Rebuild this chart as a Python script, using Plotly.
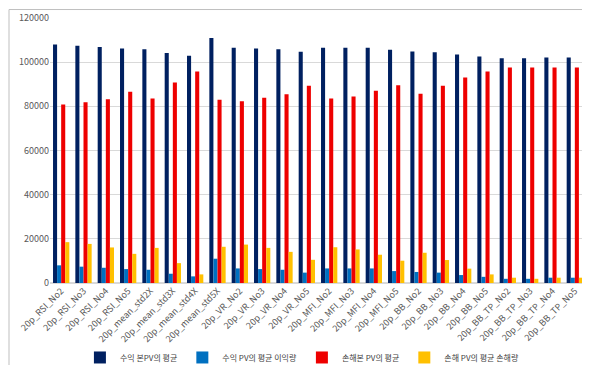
import plotly.graph_objects as go

categories = ["20p_RSI_No2", "20p_RSI_No3", "20p_RSI_No4", "20p_RSI_No5",
              "20p_mean_std2X", "20p_mean_std3X", "20p_mean_std4X", "20p_mean_std5X",
              "20p_VR_No2", "20p_VR_No3", "20p_VR_No4", "20p_VR_No5",
              "20p_MFI_No2", "20p_MFI_No3", "20p_MFI_No4", "20p_MFI_No5",
              "20p_BB_No2", "20p_BB_No3", "20p_BB_No4", "20p_BB_No5",
              "20p_BB_TP_No2", "20p_BB_TP_No3", "20p_BB_TP_No4", "20p_BB_TP_No5"]

profit_pv_avg = [108000, 107400, 106900, 106200, 105800, 104200, 102900, 111000,
                 106500, 106200, 105800, 104700, 106500, 106500, 106500, 105600,
                 104800, 104500, 103500, 102600, 101800, 101800, 102100, 102100]
profit_amount = [8000, 7400, 6900, 6300, 6000, 4200, 3000, 11000,
                 6600, 6300, 6000, 4700, 6600, 6600, 6600, 5400,
                 5000, 4700, 3600, 2800, 1900, 1900, 2400, 2400]
loss_pv_avg = [80800, 81800, 83200, 86600, 83600, 90800, 95800, 83000,
               82300, 83900, 85500, 89300, 83600, 84500, 87100, 89600,
               85700, 89300, 93100, 95800, 97600, 97600, 97600, 97600]
loss_amount = [18500, 17700, 16100, 13200, 15900, 9000, 3900, 16400,
               17400, 15900, 14100, 10500, 16200, 15200, 12800, 10100,
               13700, 10400, 6500, 3900, 2400, 1900, 2400, 2400]

series_names = ["수익 본PV의 평균", "수익 PV의 평균 이익량", "손해본 PV의 평균", "손해 PV의 평균 손해량"]
series_values = [profit_pv_avg, profit_amount, loss_pv_avg, loss_amount]
series_colors = ["#002060", "#0070C0", "#EE0000", "#FFC000"]

font_family = "Noto Sans CJK KR, Noto Sans, sans-serif"

fig = go.Figure()
for name, vals, col in zip(series_names, series_values, series_colors):
    fig.add_trace(go.Bar(x=categories, y=vals, name=name, marker_color=col,
                         marker_line_width=0))

L, R, T, B = 42, 12, 9.5, 89.7
W, H = 590, 365
pw, ph = W - L - R, H - T - B

def px_to_paper_x(px):
    return (px - L) / pw

def px_to_paper_y(py):
    return (H - B - py) / ph

fig.update_layout(
    width=W, height=H,
    margin=dict(l=L, r=R, t=T, b=B, autoexpand=False),
    barmode="group", bargap=0.27, bargroupgap=0,
    plot_bgcolor="white", paper_bgcolor="white",
    font=dict(family=font_family, size=9, color="#595959"),
    showlegend=True,
    legend=dict(orientation="h", x=0.47, xanchor="center",
                y=px_to_paper_y(350), yanchor="middle",
                font=dict(size=8, color="#404040"),
                itemwidth=30, traceorder="normal"),
    xaxis=dict(tickangle=-45, showgrid=False, showline=False, ticks="",
               tickfont=dict(size=9, color="#595959")),
    yaxis=dict(range=[0, 120000], dtick=20000, showgrid=True, gridcolor="#D9D9D9",
               gridwidth=1, zeroline=True, zerolinecolor="#D9D9D9", showline=False,
               tickformat="d", tickfont=dict(size=9, color="#595959")),
    shapes=[dict(type="rect", xref="paper", yref="paper",
                 x0=px_to_paper_x(1), x1=px_to_paper_x(588.5),
                 y0=px_to_paper_y(363.5), y1=px_to_paper_y(1),
                 line=dict(color="#BFBFBF", width=1), layer="below")]
)

fig.write_html("out.html")
